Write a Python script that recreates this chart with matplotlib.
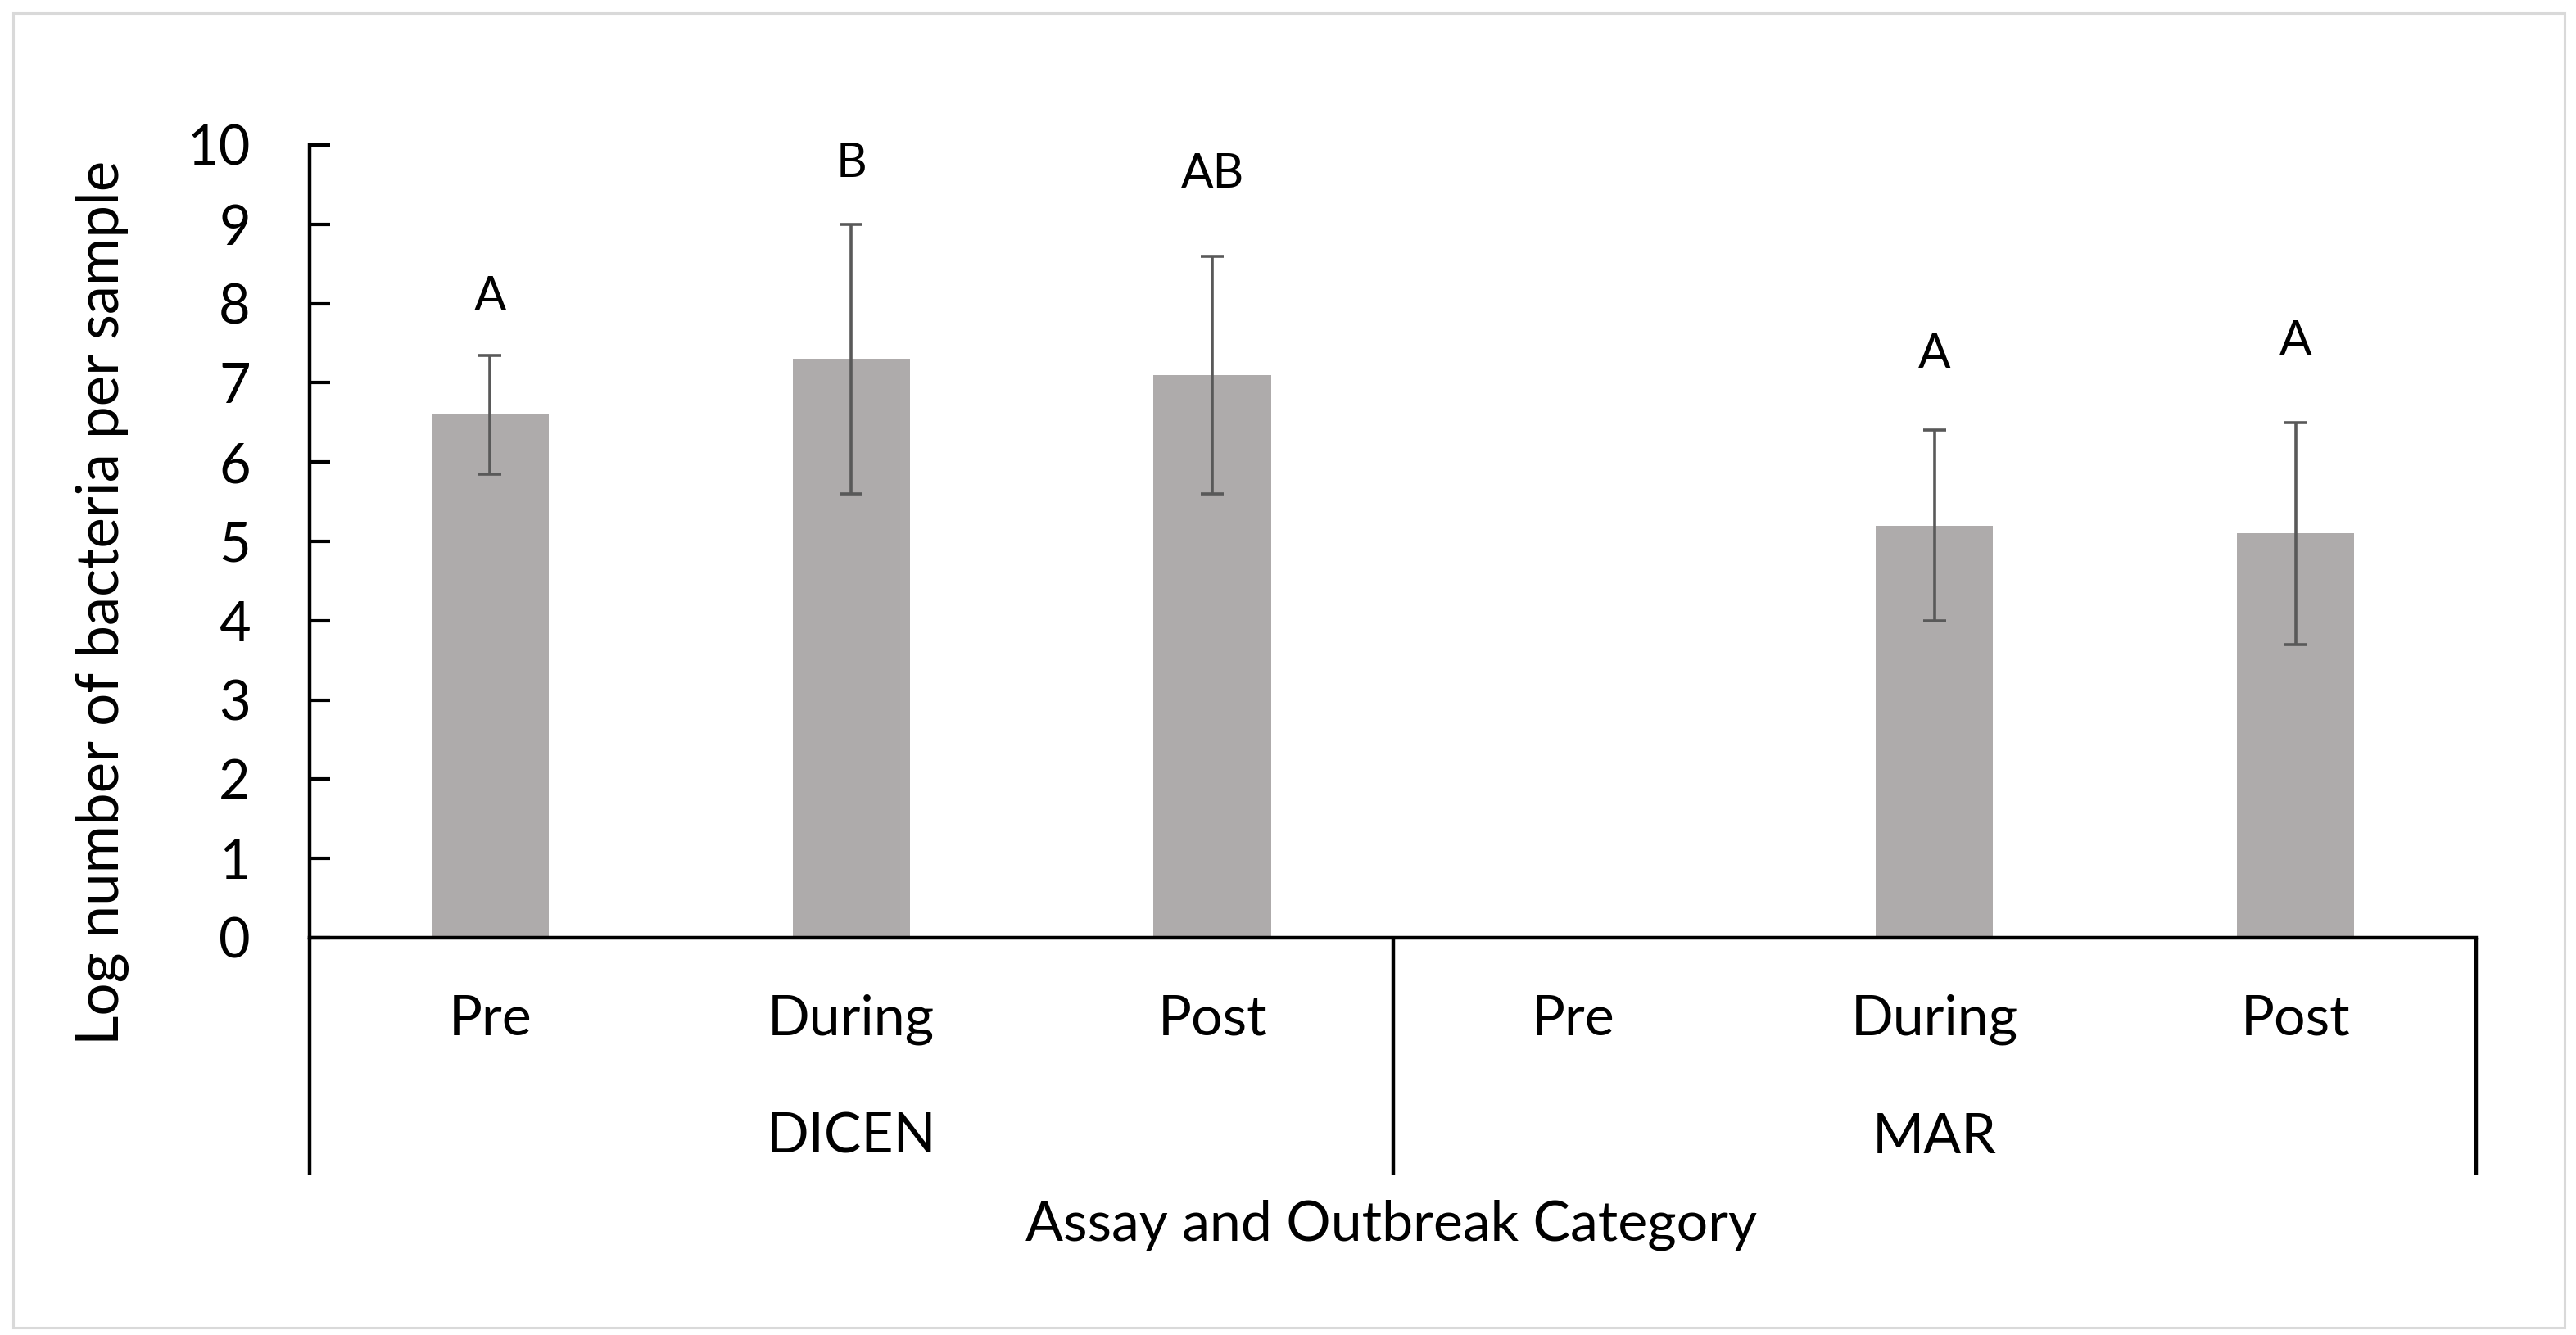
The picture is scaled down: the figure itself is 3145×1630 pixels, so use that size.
import numpy as np
import matplotlib
matplotlib.use("Agg")
import matplotlib.pyplot as plt
import matplotlib.transforms as mtransforms
from matplotlib.patches import Rectangle

# data
periods = ["Pre", "During", "Post", "Pre", "During", "Post"]
assays = ["DICEN", "MAR"]
means = [6.6, 7.3, 7.1, np.nan, 5.2, 5.1]
err_low = [5.85, 5.6, 5.6, np.nan, 4.0, 3.7]
err_high = [7.35, 9.0, 8.6, np.nan, 6.4, 6.5]
letters = ["A", "B", "AB", "", "A", "A"]
letter_y = [8.08, 9.77, 9.63, np.nan, 7.36, 7.53]

plt.rcParams['font.family'] = ['Lato', 'DejaVu Sans']

W, H = 3145, 1630
fig = plt.figure(figsize=(W / 100, H / 100), dpi=100)
# axes box in pixels: x 378..3023, y(top) 177..1145
ax = fig.add_axes([378 / W, 1 - 1145 / H, (3023 - 378) / W, (1145 - 177) / H])

# light grey outer frame
fig.patches.append(Rectangle((16 / W, 1 - 1621 / H), 3115 / W, 1605 / H,
                             transform=fig.transFigure, fill=False,
                             edgecolor="#D9D9D9", linewidth=2.2))

x = np.arange(len(periods))
m = np.array(means)
ok = ~np.isnan(m)
lo = m - np.array(err_low)
hi = np.array(err_high) - m

ax.bar(x[ok], m[ok], width=0.325, color="#AEABAB", zorder=2)
ax.errorbar(x[ok], m[ok], yerr=[lo[ok], hi[ok]], fmt="none", ecolor="#595959",
            elinewidth=2.6, capsize=10, capthick=2.6, zorder=3)

for xi, lab, ly in zip(x, letters, letter_y):
    if lab:
        ax.text(xi, ly, lab, ha="center", va="center", fontsize=42, color="black")

ax.set_xlim(-0.5, len(periods) - 0.5)
ax.set_ylim(0, 10)
ax.set_yticks(range(0, 11))
ax.tick_params(axis="y", direction="in", length=18, width=3, labelsize=48, pad=52)
ax.set_xticks([])

for s in ["top", "right"]:
    ax.spines[s].set_visible(False)
ax.spines["left"].set_linewidth(3.2)
ax.spines["bottom"].set_linewidth(3.2)

trans = mtransforms.blended_transform_factory(ax.transData, ax.transAxes)

# category labels
for xi, lab in zip(x, periods):
    ax.text(xi, -0.103, lab, transform=trans, ha="center", va="center", fontsize=49)
for gi, g in enumerate(assays):
    ax.text(gi * 3 + 1, -0.252, g, transform=trans, ha="center", va="center", fontsize=49)

# separator lines of the grouped axis
for xs in [-0.5, 2.5, 5.5]:
    ax.plot([xs, xs], [0, -0.300], transform=trans, color="black", linewidth=3.2,
            clip_on=False, solid_capstyle="butt")

fig.text(1699 / W, 1 - 1496 / H, "Assay and Outbreak Category",
         ha="center", va="center", fontsize=49)
fig.text(125 / W, 1 - 736 / H, "Log number of bacteria per sample",
         ha="center", va="center", rotation=90, fontsize=51)

fig.savefig("out.png", dpi=100)
